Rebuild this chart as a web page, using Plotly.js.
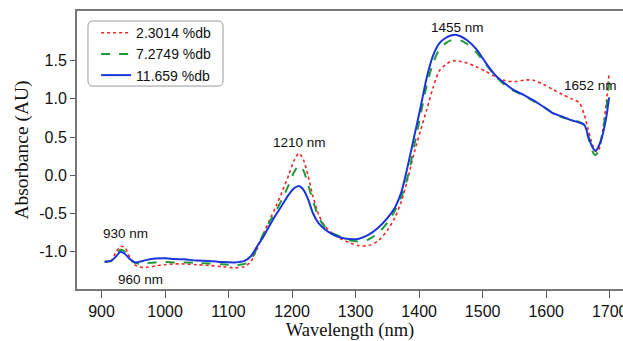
<!DOCTYPE html>
<html>
<head>
<meta charset="utf-8">
<script src="https://cdn.plot.ly/plotly-3.0.1.min.js"></script>
<style>html,body{margin:0;padding:0;background:#fff;}#chart{width:623px;height:341px;}</style>
</head>
<body>
<div id="chart"></div>
<script>
// Wavelength grid (nm)
const wavelength = [905, 915, 922, 930, 937, 945, 952, 960, 970, 985, 1000, 1015, 1030, 1050, 1070, 1090, 1110, 1125, 1135, 1145, 1155, 1165, 1175, 1185, 1195, 1203, 1211, 1218, 1225, 1233, 1242, 1252, 1262, 1275, 1290, 1305, 1320, 1335, 1350, 1362, 1372, 1382, 1392, 1402, 1412, 1422, 1432, 1442, 1450, 1457, 1465, 1475, 1490, 1505, 1520, 1535, 1550, 1565, 1580, 1595, 1610, 1625, 1640, 1652, 1660, 1666, 1671, 1675, 1678, 1682, 1686, 1690, 1695, 1699];

// 11.659 %db (blue solid)
const absHigh = [-1.13, -1.12, -1.07, -1.00, -1.03, -1.10, -1.14, -1.13, -1.11, -1.09, -1.085, -1.095, -1.10, -1.115, -1.12, -1.135, -1.14, -1.12, -1.06, -0.93, -0.80, -0.65, -0.51, -0.38, -0.25, -0.17, -0.14, -0.19, -0.31, -0.50, -0.63, -0.71, -0.765, -0.81, -0.835, -0.83, -0.78, -0.69, -0.56, -0.42, -0.22, 0.12, 0.50, 0.88, 1.28, 1.57, 1.73, 1.80, 1.83, 1.84, 1.82, 1.77, 1.65, 1.47, 1.31, 1.20, 1.11, 1.05, 0.98, 0.90, 0.815, 0.77, 0.72, 0.69, 0.66, 0.52, 0.40, 0.34, 0.32, 0.37, 0.45, 0.57, 0.78, 1.02];

// 7.2749 %db (green dashed)
const absMid = [-1.13, -1.12, -1.05, -0.975, -1.00, -1.09, -1.14, -1.16, -1.15, -1.14, -1.135, -1.14, -1.14, -1.145, -1.155, -1.165, -1.175, -1.16, -1.10, -0.95, -0.76, -0.60, -0.46, -0.30, -0.12, 0.04, 0.13, 0.06, -0.12, -0.34, -0.55, -0.68, -0.75, -0.80, -0.85, -0.865, -0.84, -0.76, -0.62, -0.46, -0.28, -0.02, 0.38, 0.78, 1.18, 1.47, 1.65, 1.73, 1.765, 1.775, 1.765, 1.72, 1.61, 1.45, 1.30, 1.18, 1.10, 1.04, 0.97, 0.90, 0.82, 0.76, 0.725, 0.70, 0.66, 0.50, 0.36, 0.28, 0.265, 0.32, 0.45, 0.62, 0.90, 1.22];

// 2.3014 %db (red dotted)
const absLow = [-1.13, -1.12, -1.02, -0.93, -0.95, -1.08, -1.17, -1.20, -1.205, -1.185, -1.17, -1.16, -1.16, -1.17, -1.18, -1.195, -1.21, -1.195, -1.13, -0.96, -0.76, -0.58, -0.40, -0.20, 0.01, 0.19, 0.29, 0.20, 0.00, -0.28, -0.52, -0.67, -0.75, -0.825, -0.88, -0.92, -0.92, -0.86, -0.72, -0.55, -0.34, -0.05, 0.29, 0.58, 0.86, 1.15, 1.37, 1.45, 1.49, 1.50, 1.49, 1.47, 1.42, 1.36, 1.29, 1.24, 1.225, 1.245, 1.245, 1.19, 1.125, 1.06, 1.00, 0.95, 0.79, 0.60, 0.45, 0.35, 0.31, 0.32, 0.44, 0.64, 0.98, 1.34];

const seriesNames = ['2.3014 %db', '7.2749 %db', '11.659 %db'];

const xTickVals = [900, 1000, 1100, 1200, 1300, 1400, 1500, 1600, 1700];
const yTickVals = [-1.0, -0.5, 0.0, 0.5, 1.0, 1.5];
const yTickText = ['-1.0', '-0.5', '0.0', '0.5', '1.0', '1.5'];

const peakLabels = ['930 nm', '960 nm', '1210 nm', '1455 nm', '1652 nm'];
const peakLabelX = [937, 960.6, 1211.7, 1460, 1669.7];
const peakLabelY = [-0.76, -1.36, 0.43, 1.94, 1.17];

const sansFont = 'Arial, "Liberation Sans", sans-serif';
const serifFont = '"Times New Roman", "Liberation Serif", serif';

const traces = [
  {x: wavelength, y: absLow, name: seriesNames[0], type: 'scatter', mode: 'lines',
   line: {color: '#f02424', width: 1.6, dash: 'dot', shape: 'spline', smoothing: 0.8}},
  {x: wavelength, y: absMid, name: seriesNames[1], type: 'scatter', mode: 'lines',
   line: {color: '#1f9a3a', width: 2, dash: 'dash', shape: 'spline', smoothing: 0.8}},
  {x: wavelength, y: absHigh, name: seriesNames[2], type: 'scatter', mode: 'lines',
   line: {color: '#1a36d8', width: 2, shape: 'spline', smoothing: 0.8}}
];

// rounded legend frame (paper coords)
const lx0 = 0.0201, lx1 = 0.2674, ly0 = 0.730, ly1 = 0.964, rx = 0.0092, ry = 0.018;
const framePath = `M${lx0+rx},${ly1} L${lx1-rx},${ly1} Q${lx1},${ly1} ${lx1},${ly1-ry} L${lx1},${ly0+ry} Q${lx1},${ly0} ${lx1-rx},${ly0} L${lx0+rx},${ly0} Q${lx0},${ly0} ${lx0},${ly0+ry} L${lx0},${ly1-ry} Q${lx0},${ly1} ${lx0+rx},${ly1} Z`;

const layout = {
  width: 623, height: 341,
  margin: {l: 77, r: 0, t: 11, b: 52},
  paper_bgcolor: '#ffffff', plot_bgcolor: '#ffffff',
  showlegend: true,
  legend: {x: 0.035, y: 0.978, xanchor: 'left', yanchor: 'top', bgcolor: 'rgba(0,0,0,0)',
           borderwidth: 0, font: {family: sansFont, size: 14, color: '#111'}, tracegroupgap: 0},
  xaxis: {
    range: [861.4, 1720.9], tickvals: xTickVals, ticktext: xTickVals.map(String),
    showgrid: false, zeroline: false, showline: true, mirror: true, linecolor: '#777', linewidth: 2,
    ticks: 'outside', ticklen: 7, tickwidth: 1, tickcolor: '#555', ticklabelstandoff: 0,
    ticklabeloverflow: 'allow',
    tickfont: {family: sansFont, size: 16, color: '#111'},
    title: {text: 'Wavelength (nm)', font: {family: serifFont, size: 18.5, color: '#111'}, standoff: 12}
  },
  yaxis: {
    range: [-1.488, 2.15], tickvals: yTickVals, ticktext: yTickText,
    showgrid: false, zeroline: false, showline: true, mirror: false, linecolor: '#777', linewidth: 2,
    ticks: 'outside', ticklen: 5, tickwidth: 1, tickcolor: '#555',
    tickfont: {family: sansFont, size: 16, color: '#111'},
    title: {text: 'Absorbance (AU)', font: {family: serifFont, size: 19.5, color: '#111'}, standoff: 5}
  },
  shapes: [{type: 'path', xref: 'paper', yref: 'paper', path: framePath,
            line: {color: '#999', width: 1}, fillcolor: 'rgba(0,0,0,0)', layer: 'above'}],
  annotations: peakLabels.map((t, i) => ({
    x: peakLabelX[i], y: peakLabelY[i], xref: 'x', yref: 'y', text: t, showarrow: false,
    font: {family: sansFont, size: 13.5, color: '#111'}, xanchor: 'center', yanchor: 'middle'
  }))
};

Plotly.newPlot('chart', traces, layout, {displayModeBar: false, staticPlot: true});
</script>
</body>
</html>
